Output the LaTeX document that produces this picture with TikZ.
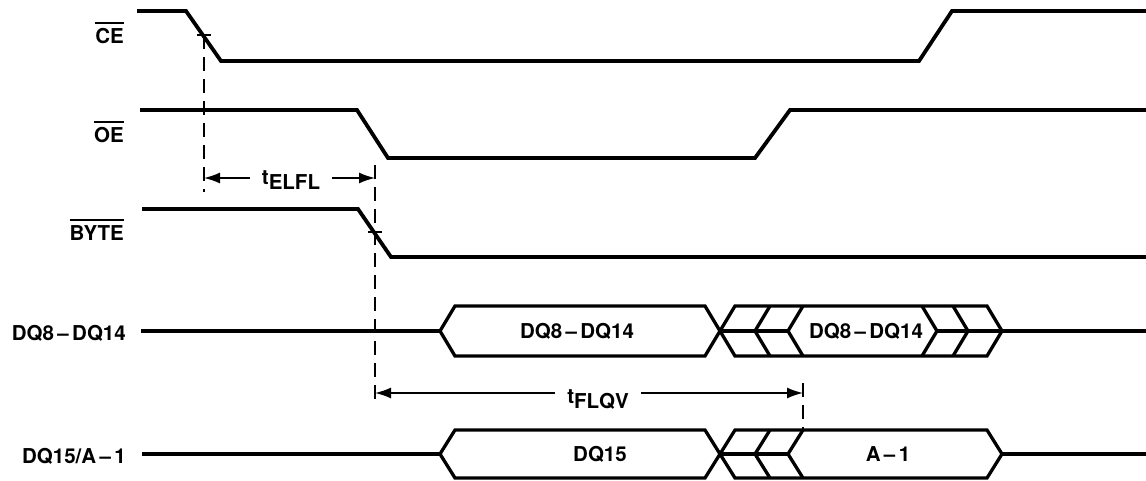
\documentclass[tikz,border=0pt]{standalone}
\usepackage{fontspec}
\setmainfont{TeX Gyre Heros}
\usetikzlibrary{arrows.meta}
\tikzset{
  sig/.style={line width=3.8pt, line join=miter, line cap=butt},
  bus/.style={line width=3.3pt, line join=miter},
  lbl/.style={font=\fontsize{20.5}{22}\selectfont\bfseries, inner sep=0pt},
  bar/.style={line width=2pt},
  dim/.style={line width=1.6pt, -{Latex[length=16pt,width=11pt]}},
  guide/.style={line width=1.4pt, dash pattern=on 14pt off 8pt},
  tick/.style={line width=1.4pt}
}
\begin{document}
\begin{tikzpicture}[x=1pt,y=-1pt]
\useasboundingbox (0,0) rectangle (1146,481);
% labels
\node[lbl,anchor=east] (ce) at (124,36) {CE};
\draw[bar] ([yshift=5pt]ce.north west) -- ([yshift=5pt]ce.north east);
\node[lbl,anchor=east] (oe) at (124,135) {OE};
\draw[bar] ([yshift=5pt]oe.north west) -- ([yshift=5pt]oe.north east);
\node[lbl,anchor=east] (byte) at (124,233) {BYTE};
\draw[bar] ([yshift=5pt]byte.north west) -- ([yshift=5pt]byte.north east);
\node[lbl,anchor=east] (dqa) at (126,333) {DQ8\,–\,DQ14};
\node[lbl,anchor=east] (dqb) at (126,456) {DQ15/A\,–\,1};
% CE
\draw[sig] (137,11) -- (186,11) -- (221,61) -- (919,61) -- (952,11) -- (1146,11);
% OE
\draw[sig] (140,110) -- (357,110) -- (388,158) -- (755,158) -- (790,110) -- (1146,110);
% BYTE
\draw[sig] (142,209) -- (358,209) -- (391,257) -- (1146,257);
% DQ8-DQ14 row
\draw[bus] (141,331) -- (440,331);
\draw[bus] (440,331) -- (455,306) -- (705,306) -- (735,356) -- (987,356) -- (1002,331);
\draw[bus] (440,331) -- (455,356) -- (705,356) -- (735,306) -- (987,306) -- (1002,331);
\draw[bus] (1002,331) -- (1146,331);
\draw[bus] (720,331) -- (788,331);
\draw[bus] (937,331) -- (1002,331);
\draw[bus] (770,306) -- (755,331) -- (770,356);
\draw[bus] (803,306) -- (788,331) -- (803,356);
\draw[bus] (922,306) -- (937,331) -- (922,356);
\draw[bus] (953,306) -- (968,331) -- (953,356);
\node[lbl] (d1) at (577,331) {DQ8\,–\,DQ14};
\node[lbl] (d2) at (866,331) {DQ8\,–\,DQ14};
% DQ15/A-1 row
\draw[bus] (142,454) -- (440,454);
\draw[bus] (440,454) -- (455,430) -- (705,430) -- (735,478) -- (987,478) -- (1002,454);
\draw[bus] (440,454) -- (455,478) -- (705,478) -- (735,430) -- (987,430) -- (1002,454);
\draw[bus] (1002,454) -- (1146,454);
\draw[bus] (720,454) -- (788,454);
\draw[bus] (770,430) -- (755,454) -- (770,478);
\draw[bus] (803,430) -- (788,454) -- (803,478);
\node[lbl] (d3) at (600,454) {DQ15};
\node[lbl] (d4) at (888,454) {A\,–\,1};
% guides
\coordinate (c1) at (204,35);
\coordinate (c1b) at (204,192);
\coordinate (c2) at (375,232);
\coordinate (c2t) at (375,165);
\coordinate (c2b) at (375,405);
\coordinate (c3t) at (803,383);
\coordinate (c3b) at (803,430);
\draw[tick] ([xshift=-7pt]c1) -- ([xshift=7pt]c1);
\draw[tick] ([yshift=-11pt]c1) -- (c1);
\draw[guide] (c1) -- (c1b);
\draw[tick] ([xshift=-7pt]c2) -- ([xshift=7pt]c2);
\draw[guide] (c2t) -- (c2b);
\draw[guide] (c3t) -- (c3b);
% tELFL
\coordinate (e1) at (204,178);
\coordinate (e2) at (375,178);
\node[lbl,inner xsep=12pt] (elfl) at (291,180) {t\raisebox{-5pt}{ELFL}};
\draw[dim] (e1 -| elfl.west) -- (e1);
\draw[dim] (e2 -| elfl.east) -- (e2);
% tFLQV
\coordinate (f1) at (375,393);
\coordinate (f2) at (803,393);
\node[lbl,inner xsep=12pt] (flqv) at (598,400) {t\raisebox{-5pt}{FLQV}};
\draw[dim] (f1 -| flqv.west) -- (f1);
\draw[dim] (f2 -| flqv.east) -- (f2);
\end{tikzpicture}
\end{document}
